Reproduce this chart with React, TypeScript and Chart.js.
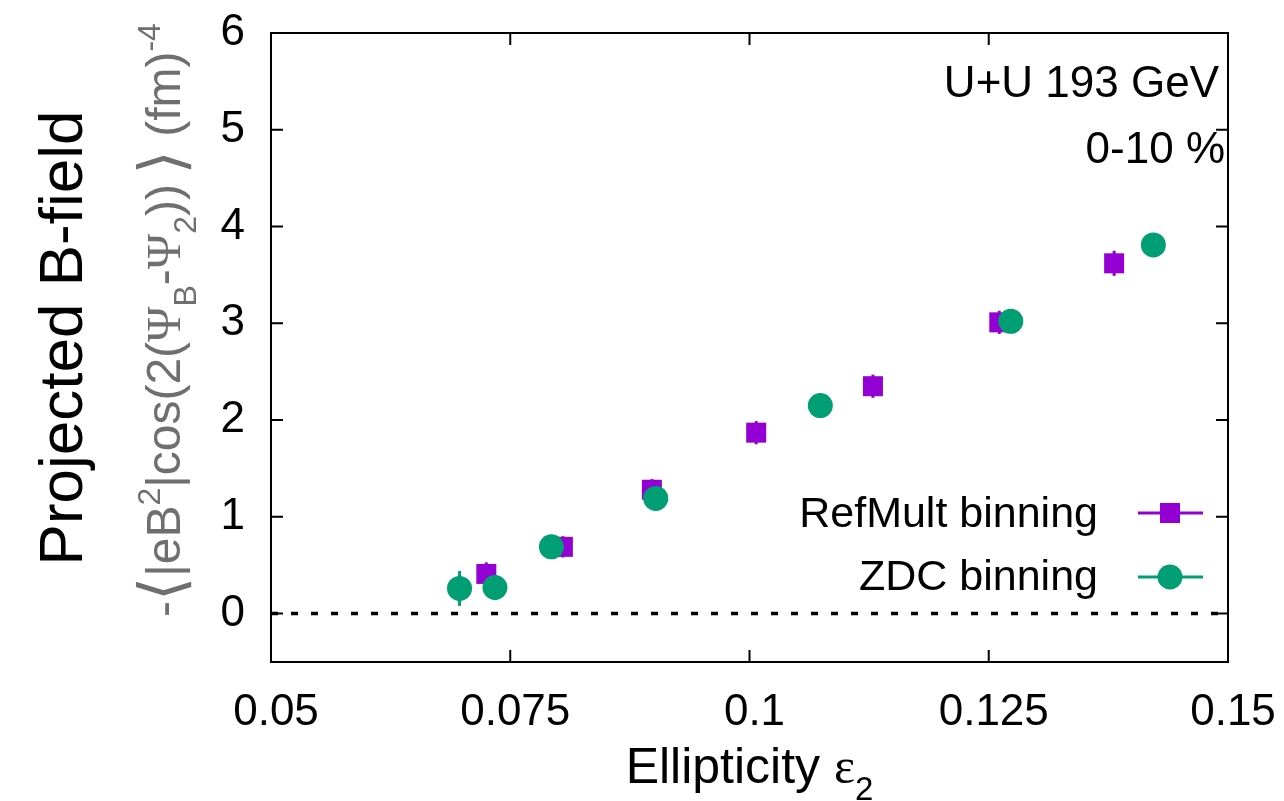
import React, { useEffect, useRef } from "react";
import { Chart, registerables } from "chart.js";

Chart.register(...registerables);

// ---------- data ----------
const xTicks = [0.05, 0.075, 0.1, 0.125, 0.15];
const yTicks = [0, 1, 2, 3, 4, 5, 6];

const refMultX = [0.0725, 0.0805, 0.0898, 0.1007, 0.1129, 0.1261, 0.1381];
const refMultY = [0.41, 0.69, 1.28, 1.87, 2.35, 3.01, 3.62];
const refMultErr = [0.12, 0.11, 0.11, 0.12, 0.12, 0.12, 0.13];

const zdcX = [0.0697, 0.0734, 0.0793, 0.0902, 0.1074, 0.1273, 0.1422];
const zdcY = [0.26, 0.27, 0.69, 1.19, 2.15, 3.02, 3.81];
const zdcErr = [0.18, 0.13, 0.08, 0.08, 0.08, 0.08, 0.08];

const zeroLineX = [0.05, 0.15];
const zeroLineY = [0, 0];

const legendLabels = ["RefMult binning", "ZDC binning"];
const annotationLines = ["U+U 193 GeV", "0-10 %"];

// ---------- style ----------
const SANS = '"Liberation Sans", Arial, Helvetica, sans-serif';
const SERIF = '"Liberation Serif", "DejaVu Serif", "DejaVu Sans", serif';
const PURPLE = "#9400d3";
const GREEN = "#009e73";
const GRAY = "#6f6f6f";

type Seg = { t: string; k?: "sup" | "sub"; f?: string; s?: number };

function segFont(s: Seg, size: number) {
  let sz = s.k ? Math.round(size * 0.66) : size;
  if (s.s) sz = Math.round(sz * s.s);
  return `${sz}px ${s.f || SANS}`;
}

function drawRich(ctx: CanvasRenderingContext2D, segs: Seg[], size: number, cx: number, baseY: number) {
  let total = 0;
  const widths = segs.map((s) => {
    ctx.font = segFont(s, size);
    const w = ctx.measureText(s.t).width;
    total += w;
    return w;
  });
  let x = cx - total / 2;
  ctx.textAlign = "left";
  ctx.textBaseline = "alphabetic";
  segs.forEach((s, i) => {
    ctx.font = segFont(s, size);
    let dy = 0;
    if (s.k === "sup") dy = -size * 0.42;
    if (s.k === "sub") dy = size * 0.33;
    if (s.s) dy += size * 0.06;
    ctx.fillText(s.t, x, baseY + dy);
    x += widths[i];
  });
}

const ySubtitle: Seg[] = [
  { t: "-" },
  { t: "\u27E8", f: SERIF, s: 1.3 },
  { t: "|eB" },
  { t: "2", k: "sup" },
  { t: "|cos(2(" },
  { t: "\u03A8", f: SERIF },
  { t: "B", k: "sub" },
  { t: "-" },
  { t: "\u03A8", f: SERIF },
  { t: "2", k: "sub" },
  { t: "))\u2009" },
  { t: "\u27E9", f: SERIF, s: 1.3 },
  { t: " (fm)" },
  { t: "-4", k: "sup" },
];

const xTitle: Seg[] = [{ t: "Ellipticity " }, { t: "\u03B5", f: SERIF }, { t: "2", k: "sub" }];

const errorBarPlugin = {
  id: "errorBars",
  beforeDatasetDraw(chart: any, args: any) {
    const ds = chart.data.datasets[args.index] as any;
    if (!ds.errors) return;
    const { ctx, scales } = chart;
    ctx.save();
    ctx.strokeStyle = ds.borderColor;
    ctx.lineWidth = 3;
    ds.data.forEach((p: any, i: number) => {
      const e = ds.errors[i];
      const px = scales.x.getPixelForValue(p.x);
      const y1 = scales.y.getPixelForValue(p.y - e);
      const y2 = scales.y.getPixelForValue(p.y + e);
      ctx.beginPath();
      ctx.moveTo(px, y1);
      ctx.lineTo(px, y2);
      ctx.stroke();
    });
    ctx.restore();
  },
};

const framePlugin = {
  id: "frameAndText",
  afterDraw(chart: any) {
    const { ctx, chartArea: a, scales } = chart;
    ctx.save();
    // frame
    ctx.strokeStyle = "#000";
    ctx.lineWidth = 2;
    ctx.strokeRect(a.left, a.top, a.right - a.left, a.bottom - a.top);
    // inward ticks
    const tl = 12;
    ctx.beginPath();
    xTicks.forEach((v) => {
      const px = scales.x.getPixelForValue(v);
      if (px <= a.left + 1 || px >= a.right - 1) return;
      ctx.moveTo(px, a.bottom);
      ctx.lineTo(px, a.bottom - tl);
      ctx.moveTo(px, a.top);
      ctx.lineTo(px, a.top + tl);
    });
    yTicks.forEach((v) => {
      const py = scales.y.getPixelForValue(v);
      if (py <= a.top + 1 || py >= a.bottom - 1) return;
      ctx.moveTo(a.left, py);
      ctx.lineTo(a.left + tl, py);
      ctx.moveTo(a.right, py);
      ctx.lineTo(a.right - tl, py);
    });
    ctx.stroke();

    // annotation
    ctx.fillStyle = "#000";
    ctx.font = `44px ${SANS}`;
    ctx.textAlign = "right";
    ctx.textBaseline = "alphabetic";
    ctx.fillText(annotationLines[0], 1219, 97);
    ctx.fillText(annotationLines[1], 1225, 163);

    // legend
    ctx.font = `43px ${SANS}`;
    ctx.fillText(legendLabels[0], 1098, 527);
    ctx.fillText(legendLabels[1], 1098, 590);
    ctx.lineWidth = 3;
    ctx.strokeStyle = PURPLE;
    ctx.beginPath();
    ctx.moveTo(1138, 513);
    ctx.lineTo(1203, 513);
    ctx.stroke();
    ctx.fillStyle = PURPLE;
    ctx.fillRect(1160, 503, 20, 20);
    ctx.strokeStyle = GREEN;
    ctx.beginPath();
    ctx.moveTo(1138, 577);
    ctx.lineTo(1203, 577);
    ctx.stroke();
    ctx.fillStyle = GREEN;
    ctx.beginPath();
    ctx.arc(1170, 577, 12.5, 0, Math.PI * 2);
    ctx.fill();

    // x title
    ctx.fillStyle = "#000";
    drawRich(ctx, xTitle, 50, (a.left + a.right) / 2, 783);

    // y titles
    ctx.save();
    ctx.translate(82, 338);
    ctx.rotate(-Math.PI / 2);
    ctx.fillStyle = "#000";
    ctx.font = `62px ${SANS}`;
    ctx.textAlign = "center";
    ctx.fillText("Projected B-field", 0, 0);
    ctx.restore();

    ctx.save();
    ctx.translate(180, 320);
    ctx.rotate(-Math.PI / 2);
    ctx.fillStyle = GRAY;
    drawRich(ctx, ySubtitle, 48, 0, 0);
    ctx.restore();

    ctx.restore();
  },
};

export default function App() {
  const ref = useRef<HTMLCanvasElement | null>(null);

  useEffect(() => {
    if (!ref.current) return;
    const chart = new Chart(ref.current, {
      type: "scatter",
      data: {
        datasets: [
          {
            label: legendLabels[1],
            data: zdcX.map((x, i) => ({ x, y: zdcY[i] })),
            errors: zdcErr,
            backgroundColor: GREEN,
            borderColor: GREEN,
            pointStyle: "circle",
            pointRadius: 12.5,
            pointBorderWidth: 0,
            order: 0,
          } as any,
          {
            label: legendLabels[0],
            data: refMultX.map((x, i) => ({ x, y: refMultY[i] })),
            errors: refMultErr,
            backgroundColor: PURPLE,
            borderColor: PURPLE,
            pointStyle: "rect",
            pointRadius: 14.14,
            pointBorderWidth: 0,
            order: 1,
          } as any,
          {
            type: "line",
            label: "zero",
            data: zeroLineX.map((x, i) => ({ x, y: zeroLineY[i] })),
            borderColor: "#000",
            borderWidth: 3.5,
            borderDash: [7, 13],
            pointRadius: 0,
            showLine: true,
            order: 2,
          } as any,
        ],
      },
      options: {
        responsive: false,
        animation: false,
        layout: { padding: { top: 33, right: 56, left: 0, bottom: 0 } },
        plugins: { legend: { display: false }, tooltip: { enabled: false } },
        scales: {
          x: {
            type: "linear",
            min: 0.05,
            max: 0.15,
            afterBuildTicks: (s: any) => {
              s.ticks = xTicks.map((v) => ({ value: v }));
            },
            afterFit: (s: any) => {
              s.height = 139;
              s.paddingLeft = 0;
              s.paddingRight = 0;
            },
            grid: { display: false, drawTicks: false },
            border: { display: false },
            ticks: {
              font: { family: SANS, size: 44 },
              color: "#000",
              padding: 24,
              labelOffset: 5,
              maxRotation: 0,
              autoSkip: false,
              callback: (v: any) => String(v),
            },
          },
          y: {
            type: "linear",
            min: -0.5,
            max: 6,
            afterBuildTicks: (s: any) => {
              s.ticks = yTicks.map((v) => ({ value: v }));
            },
            afterFit: (s: any) => {
              s.width = 271;
              s.paddingTop = 0;
              s.paddingBottom = 0;
            },
            grid: { display: false, drawTicks: false },
            border: { display: false },
            ticks: {
              font: { family: SANS, size: 44 },
              color: "#000",
              padding: 26,
              autoSkip: false,
              callback: (v: any) => String(v),
            },
          },
        },
      },
      plugins: [errorBarPlugin, framePlugin],
    } as any);
    return () => chart.destroy();
  }, []);

  return (
    <div style={{ position: "absolute", left: 0, top: 0, width: 1284, height: 801, background: "#fff" }}>
      <canvas ref={ref} width={1284} height={801} style={{ display: "block" }} />
    </div>
  );
}
